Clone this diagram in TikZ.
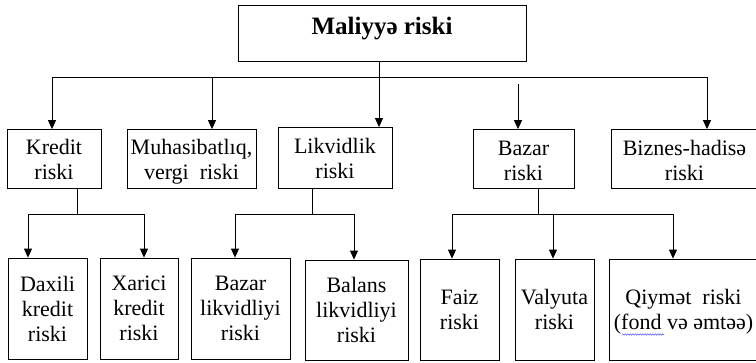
\documentclass[tikz,border=0pt]{standalone}
\usepackage{fontspec}
\setmainfont{Liberation Serif}
\usetikzlibrary{arrows.meta,decorations.pathmorphing}
\tikzset{
  box/.style={draw, line width=0.8pt, inner sep=0pt, align=center,
    font=\fontsize{22}{25}\selectfont},
  lvltwo/.style={box, minimum height=59pt, text depth=0pt},
  lvlthree/.style={box, minimum height=101pt, text depth=0pt},
  arr/.style={line width=0.8pt, -{Triangle[width=8pt,length=9pt]}},
  bus/.style={line width=0.8pt}
}
\begin{document}
\begin{tikzpicture}[x=1pt,y=-1pt]
  \useasboundingbox (0,0) rectangle (756,362);

  \node[box, minimum width=288pt, minimum height=56pt, text depth=15pt,
    font=\fontsize{25}{30}\selectfont\bfseries] (title) at (382,33) {Maliyyə riski};

  % second row
  \node[lvltwo, minimum width=94pt] (kredit) at (54,159) {Kredit\\riski};
  \node[lvltwo, minimum width=129pt] (muhas) at (191.5,159) {Muhasibatlıq,\\vergi\ \ riski};
  \node[lvltwo, minimum width=114pt, minimum height=61pt] (likv) at (335,158) {Likvidlik\\riski};
  \node[lvltwo, minimum width=101pt, text height=43pt] (bazar) at (523.5,159) {Bazar\\riski};
  \node[lvltwo, minimum width=147pt, text height=43pt] (biznes) at (684.5,159) {Biznes-hadisə\\riski};

  % third row
  \node[lvlthree, minimum width=79pt] (daxili) at (47.5,308.5) {Daxili\\kredit\\riski};
  \node[lvlthree, minimum width=78pt] (xarici) at (139,308.5) {Xarici\\kredit\\riski};
  \node[lvlthree, minimum width=99pt] (bazlik) at (240.5,308.5) {Bazar\\likvidliyi\\riski};
  \node[lvlthree, minimum width=103pt, minimum height=100pt] (balans) at (356.5,310) {Balans\\likvidliyi\\riski};
  \node[lvlthree, minimum width=79pt] (faiz) at (459.5,309.5) {Faiz\\riski};
  \node[lvlthree, minimum width=79pt] (valyuta) at (554.5,309.5) {Valyuta\\riski};
  \node[lvlthree, minimum width=149pt] (qiymet) at (683.5,309.5) {Qiymət\ \ riski\\(fond və əmtəə)};

  % top bus
  \coordinate (b1) at (52,77);
  \coordinate (b2) at (212,77);
  \coordinate (b3) at (707,77);
  \draw[bus] (b1) -- (b3);
  \draw[arr] (b1) -- (b1 |- kredit.north);
  \draw[arr] (b2) -- (b2 |- muhas.north);
  \draw[arr] (b3) -- (b3 |- biznes.north);
  \coordinate (td) at ([xshift=-3pt]title.south);
  \draw[arr] (td) -- (td |- likv.north);
  \coordinate (bz) at (518,84);
  \draw[arr] (bz) -- (bz |- bazar.north);

  % kredit
  \coordinate (kc) at (77,214);
  \coordinate (k1) at (28,214);
  \coordinate (k2) at (144,214);
  \draw[bus] (kc |- kredit.south) -- (kc);
  \draw[bus] (k1) -- (k2);
  \draw[arr] (k1) -- (k1 |- daxili.north);
  \draw[arr] (k2) -- (k2 |- xarici.north);

  % likvidlik
  \coordinate (lc) at (312,214);
  \coordinate (l1) at (235,214);
  \coordinate (l2) at (354,214);
  \draw[bus] (lc |- likv.south) -- (lc);
  \draw[bus] (l1) -- (l2);
  \draw[arr] (l1) -- (l1 |- bazlik.north);
  \draw[arr] (l2) -- (l2 |- balans.north);

  % bazar
  \coordinate (zc) at (538,214);
  \coordinate (z1) at (452,214);
  \coordinate (z2) at (553,214);
  \coordinate (z3) at (673,214);
  \draw[bus] (zc |- bazar.south) -- (zc);
  \draw[bus] (z1) -- (z3);
  \draw[arr] (z1) -- (z1 |- faiz.north);
  \draw[arr] (z2) -- (z2 |- valyuta.north);
  \draw[arr] (z3) -- (z3 |- qiymet.north);

  % spell-check wave under "fond"
  \coordinate (wv1) at (622,334.5);
  \coordinate (wv2) at (664,334.5);
  \draw[blue!70!white, line width=0.5pt, decorate,
    decoration={snake, amplitude=0.7pt, segment length=2.5pt}] (wv1) -- (wv2);
\end{tikzpicture}
\end{document}
